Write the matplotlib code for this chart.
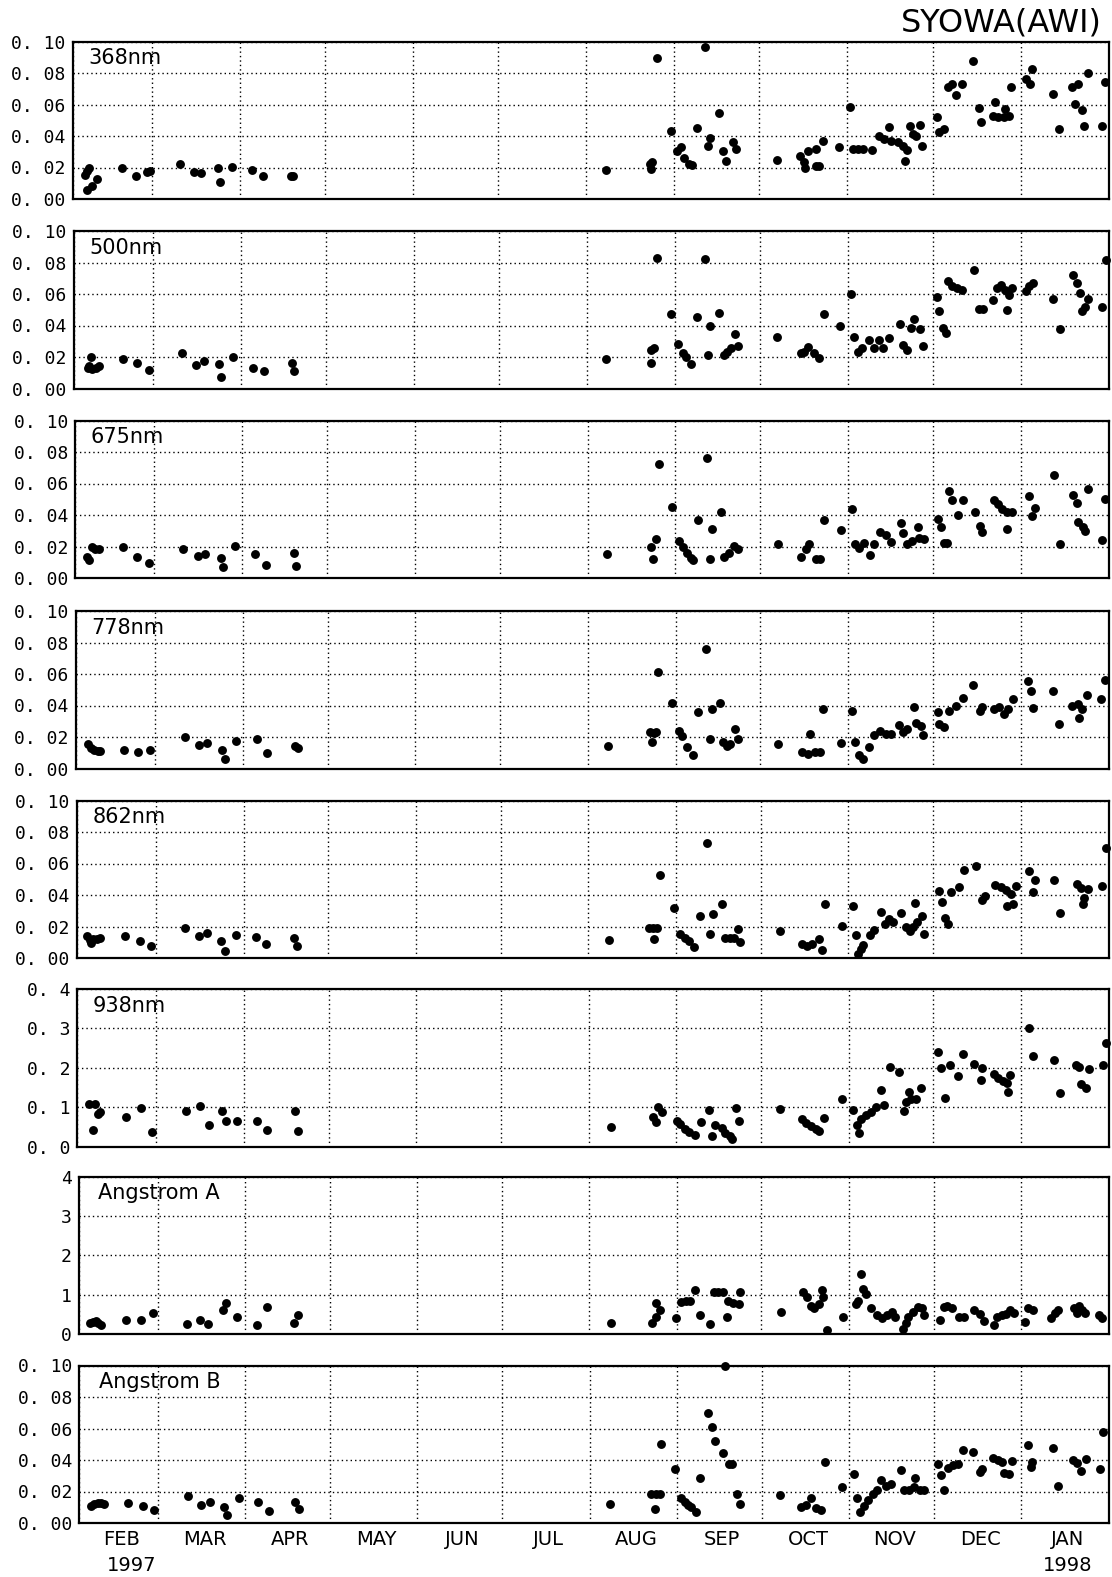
import matplotlib
matplotlib.use("Agg")
import matplotlib.pyplot as plt
from matplotlib.ticker import FixedLocator, FixedFormatter, NullFormatter
import matplotlib.transforms as mtransforms

# ---------------- data (x = days since 1 Feb 1997) ----------------
month_starts = [0, 28, 59, 89, 120, 150, 181, 212, 242, 273, 303, 334, 365]
month_labels = ["FEB", "MAR", "APR", "MAY", "JUN", "JUL",
                "AUG", "SEP", "OCT", "NOV", "DEC", "JAN"]

day_368 = [4.4, 5.2, 5.9, 5.2, 6.7, 8.5, 17.3, 22.4, 26.1, 27.3, 37.9, 42.9, 45.3, 51.2, 51.8, 56.0, 63.3, 67.1, 77.0, 77.8,
           187.9, 205.9, 203.5, 204.3, 203.8, 211.0, 222.7, 213.1, 214.5, 215.5, 217.0, 218.3, 220.0, 224.5, 223.9,
           227.8, 229.1, 230.3, 232.6, 233.7, 248.1, 256.2, 257.6, 258.2, 259.2, 261.8, 261.8, 263.0, 264.5, 270.2,
           273.8, 275.0, 276.8, 278.6, 281.7, 284.1, 285.8, 287.6, 288.2, 290.7, 292.5, 294.0, 293.3, 295.0, 296.1,
           298.5, 297.3, 299.3, 304.5, 305.1, 306.9, 308.5, 309.9, 311.4, 313.3, 317.1, 319.5, 320.2, 325.0, 324.4,
           326.2, 328.0, 329.8, 328.6, 330.6, 335.8, 337.4, 338.2, 345.6, 347.6, 352.0, 354.4, 357.7, 353.2, 355.6,
           356.2, 362.6, 363.8]
aod_368 = [0.0155, 0.018, 0.0198, 0.0057, 0.0085, 0.0128, 0.0198, 0.0149, 0.017, 0.0177, 0.0223, 0.017, 0.0164, 0.0196,
           0.0106, 0.0202, 0.0185, 0.0149, 0.0149, 0.0149,
           0.0182, 0.0893, 0.022, 0.0235, 0.0188, 0.0434, 0.0968, 0.0306, 0.0327, 0.0259, 0.0224, 0.0216, 0.045, 0.039,
           0.0338, 0.0545, 0.0306, 0.0241, 0.0365, 0.0316, 0.0248, 0.0273, 0.0235, 0.0199, 0.0306, 0.0316, 0.021, 0.021,
           0.037, 0.0333, 0.0583, 0.032, 0.032, 0.032, 0.031, 0.040, 0.038, 0.0455, 0.037, 0.0359, 0.0338, 0.031, 0.0241,
           0.0466, 0.0412, 0.0472, 0.040, 0.0338, 0.0523, 0.0423, 0.0444, 0.0712, 0.0733, 0.0658, 0.0729, 0.0876, 0.058,
           0.0487, 0.0615, 0.053, 0.052, 0.052, 0.053, 0.057, 0.0712, 0.0765, 0.0733, 0.0825, 0.0669, 0.0444, 0.0712,
           0.0733, 0.0803, 0.0605, 0.0562, 0.0466, 0.0466, 0.0744]

day_500 = [5.2, 5.5, 6.3, 6.7, 7.9, 9.0, 17.5, 22.4, 26.7, 38.1, 43.2, 46.1, 51.2, 52.0, 56.3, 63.4, 67.2, 77.0, 77.8,
           187.9, 205.9, 203.5, 204.7, 203.8, 210.7, 222.7, 213.1, 214.9, 216.1, 217.9, 220.0, 224.5, 223.9, 227.8,
           229.3, 230.5, 231.7, 233.2, 234.2, 248.1, 256.4, 257.6, 259.2, 261.2, 263.0, 264.5, 270.2, 274.2, 275.4,
           276.8, 278.0, 280.5, 282.3, 284.1, 285.3, 287.6, 291.3, 292.5, 294.0, 295.5, 296.4, 298.5, 299.5, 304.5,
           305.4, 306.6, 307.6, 308.5, 309.9, 311.7, 313.5, 317.4, 319.5, 320.7, 324.4, 325.6, 327.0, 328.5, 330.0,
           331.0, 329.1, 335.8, 337.0, 338.2, 345.6, 347.8, 352.4, 353.8, 354.8, 357.7, 355.6, 356.6, 362.6, 364.1]
aod_500 = [0.0133, 0.0143, 0.0202, 0.0122, 0.0133, 0.0143, 0.019, 0.0164, 0.0118, 0.0223, 0.0147, 0.0175, 0.0154, 0.0076,
           0.0202, 0.0133, 0.0112, 0.016, 0.0112,
           0.0185, 0.0826, 0.0245, 0.0255, 0.0164, 0.0472, 0.0823, 0.0283, 0.0228, 0.0202, 0.0155, 0.0451, 0.040, 0.0213,
           0.0479, 0.0213, 0.0234, 0.0255, 0.0345, 0.027, 0.0326, 0.0223, 0.0234, 0.0266, 0.0223, 0.0191, 0.0472, 0.0394,
           0.0602, 0.0326, 0.0234, 0.0255, 0.0309, 0.0255, 0.0309, 0.0255, 0.0319, 0.041, 0.0277, 0.0245, 0.0383, 0.0443,
           0.0377, 0.027, 0.0581, 0.0489, 0.0383, 0.0355, 0.068, 0.0653, 0.0638, 0.0623, 0.0751, 0.0506, 0.0504, 0.056,
           0.0638, 0.066, 0.0628, 0.0596, 0.0638, 0.0496, 0.0617, 0.0649, 0.067, 0.0568, 0.0377, 0.0723, 0.067, 0.0606,
           0.057, 0.0489, 0.0517, 0.0517, 0.0819]

day_675 = [4.4, 5.1, 5.9, 7.1, 8.3, 16.9, 21.9, 26.2, 38.1, 43.3, 46.0, 51.4, 52.2, 56.4, 63.4, 67.3, 77.4, 78.0,
           187.9, 206.1, 203.5, 205.1, 204.3, 211.0, 223.1, 213.3, 214.9, 216.3, 217.5, 218.3, 220.1, 225.1, 228.1,
           224.3, 229.3, 231.1, 232.9, 234.2, 248.3, 256.4, 258.2, 259.4, 261.6, 263.0, 264.6, 270.5, 274.4, 275.6,
           276.8, 278.6, 280.6, 282.3, 284.4, 286.4, 288.2, 291.6, 292.5, 293.8, 295.5, 297.6, 297.9, 299.7, 304.8,
           305.7, 307.0, 307.9, 308.7, 309.7, 313.5, 311.7, 317.7, 319.5, 320.4, 324.4, 325.9, 327.4, 329.2, 331.0,
           329.1, 337.0, 339.0, 338.0, 345.6, 347.8, 352.6, 353.8, 357.7, 354.4, 355.9, 356.8, 362.8, 363.8]
aod_675 = [0.0132, 0.0115, 0.0195, 0.0184, 0.0182, 0.0199, 0.0132, 0.0094, 0.0182, 0.014, 0.0153, 0.0126, 0.0073, 0.0203,
           0.0151, 0.0084, 0.0157, 0.0077,
           0.015, 0.0721, 0.0197, 0.025, 0.0118, 0.0453, 0.0759, 0.0235, 0.0197, 0.016, 0.0128, 0.0113, 0.037, 0.0314,
           0.0421, 0.0118, 0.0135, 0.016, 0.0203, 0.0186, 0.0214, 0.0133, 0.0182, 0.0214, 0.0118, 0.0122, 0.037, 0.0304,
           0.0439, 0.0214, 0.0193, 0.022, 0.0143, 0.0214, 0.0289, 0.0272, 0.0229, 0.0347, 0.0284, 0.0214, 0.0235, 0.0321,
           0.0257, 0.0246, 0.0374, 0.0321, 0.022, 0.0225, 0.055, 0.0498, 0.0498, 0.040, 0.0417, 0.0327, 0.0293, 0.0498,
           0.047, 0.0439, 0.0417, 0.0417, 0.0314, 0.0518, 0.0443, 0.0391, 0.0652, 0.0214, 0.053, 0.0477, 0.0567, 0.0357,
           0.0321, 0.030, 0.024, 0.0503]

day_778 = [4.4, 5.3, 6.5, 7.7, 8.6, 17.1, 22.1, 26.4, 38.5, 43.5, 46.5, 51.6, 52.6, 56.6, 63.9, 67.5, 77.6, 78.4,
           188.0, 205.8, 203.0, 204.2, 205.0, 203.8, 210.8, 222.8, 213.2, 214.4, 215.9, 218.0, 219.8, 225.0, 227.6,
           224.0, 228.8, 230.3, 231.2, 233.0, 233.9, 248.1, 256.5, 258.7, 259.5, 261.3, 263.1, 264.0, 270.3, 274.3,
           275.5, 276.9, 278.1, 280.3, 282.0, 284.1, 286.5, 288.3, 291.1, 292.3, 293.7, 296.2, 296.8, 298.6, 299.5,
           304.6, 305.2, 306.7, 308.8, 311.2, 313.6, 317.2, 319.6, 320.2, 324.4, 326.4, 328.0, 329.6, 331.3, 336.4,
           337.6, 338.2, 345.4, 347.6, 352.1, 354.1, 355.7, 354.6, 357.5, 362.3, 363.7]
aod_778 = [0.0154, 0.0133, 0.0116, 0.0112, 0.0112, 0.0116, 0.0105, 0.0116, 0.020, 0.0147, 0.0162, 0.012, 0.0063, 0.0175,
           0.0189, 0.0101, 0.0141, 0.013,
           0.0143, 0.0615, 0.0229, 0.0225, 0.0229, 0.0169, 0.0418, 0.076, 0.024, 0.0208, 0.0139, 0.0086, 0.0358, 0.0375,
           0.0418, 0.0186, 0.0169, 0.0143, 0.0154, 0.025, 0.019, 0.0158, 0.0105, 0.009, 0.0218, 0.0105, 0.0105, 0.0379,
           0.016, 0.0368, 0.0169, 0.0086, 0.0058, 0.0139, 0.0212, 0.0236, 0.0218, 0.0218, 0.0276, 0.0229, 0.025, 0.039,
           0.0289, 0.0272, 0.0212, 0.0358, 0.0283, 0.0261, 0.0368, 0.0396, 0.0448, 0.0533, 0.0362, 0.039, 0.0379, 0.039,
           0.0347, 0.0379, 0.0443, 0.0557, 0.049, 0.0383, 0.0492, 0.0283, 0.040, 0.0411, 0.0379, 0.0319, 0.0465, 0.0443,
           0.0561]

day_862 = [3.6, 4.6, 5.2, 5.8, 7.0, 8.2, 17.2, 22.4, 26.4, 38.3, 43.4, 46.1, 51.1, 52.6, 56.4, 63.4, 67.1, 76.8, 78.0,
           188.3, 206.3, 202.4, 203.9, 205.4, 204.2, 211.4, 223.0, 213.4, 215.0, 216.6, 218.4, 220.4, 225.2, 228.2,
           224.0, 229.2, 231.0, 232.6, 233.8, 234.6, 248.7, 256.5, 258.3, 260.1, 262.5, 263.7, 264.7, 270.6, 274.6,
           275.8, 276.4, 277.3, 278.2, 280.5, 282.2, 284.6, 285.8, 287.4, 288.6, 291.6, 293.4, 294.6, 295.8, 297.4,
           299.1, 296.7, 299.9, 304.9, 306.1, 307.1, 308.3, 309.2, 312.2, 314.0, 318.0, 320.4, 321.2, 324.8, 326.8,
           328.8, 330.5, 332.1, 329.0, 331.2, 337.0, 339.1, 338.2, 345.6, 348.0, 353.8, 355.3, 357.9, 356.2, 355.9,
           362.8, 364.0]
aod_862 = [0.0139, 0.0113, 0.0096, 0.0122, 0.0122, 0.0128, 0.0139, 0.0107, 0.0075, 0.0188, 0.0139, 0.0156, 0.0111, 0.0047,
           0.0146, 0.0135, 0.0092, 0.0124, 0.0079,
           0.0115, 0.0524, 0.0188, 0.0188, 0.0188, 0.0123, 0.032, 0.0732, 0.0152, 0.013, 0.0108, 0.0071, 0.0266, 0.0281,
           0.034, 0.0152, 0.013, 0.013, 0.013, 0.0184, 0.0102, 0.0169, 0.0087, 0.0076, 0.0091, 0.0119, 0.0048, 0.0346,
           0.0201, 0.0331, 0.0147, 0.0026, 0.0054, 0.0082, 0.0147, 0.0177, 0.0292, 0.0216, 0.0249, 0.0227, 0.0286, 0.0195,
           0.0173, 0.0195, 0.0227, 0.0264, 0.0351, 0.0152, 0.0426, 0.0357, 0.0255, 0.0216, 0.0416, 0.045, 0.0556, 0.0584,
           0.0368, 0.0394, 0.0465, 0.0448, 0.0433, 0.0407, 0.0455, 0.0329, 0.0342, 0.0552, 0.0498, 0.0418, 0.0494, 0.0286,
           0.0472, 0.0444, 0.0437, 0.0379, 0.0342, 0.0455, 0.0697]

day_938 = [4.3, 5.5, 6.1, 7.2, 8.2, 17.2, 22.4, 26.4, 38.5, 43.4, 46.6, 51.3, 52.6, 56.6, 63.6, 67.2, 77.0, 78.2,
           188.8, 203.6, 204.8, 205.4, 206.9, 212.1, 213.5, 215.0, 216.6, 218.6, 220.6, 223.6, 224.6, 225.8, 228.2,
           229.4, 231.0, 231.8, 233.3, 234.2, 248.6, 256.6, 257.8, 259.6, 261.4, 262.6, 264.4, 270.5, 274.5, 275.9,
           276.8, 277.5, 279.2, 281.1, 282.8, 284.3, 285.6, 287.6, 290.9, 292.7, 293.3, 294.5, 295.1, 296.9, 298.7,
           304.8, 305.6, 307.2, 309.0, 311.6, 313.5, 317.4, 320.4, 319.8, 324.4, 326.0, 327.6, 329.0, 330.2, 329.5,
           337.0, 338.4, 345.8, 348.0, 353.4, 354.6, 355.2, 357.0, 358.2, 363.0, 364.2]
aod_938 = [0.107, 0.0409, 0.1087, 0.0826, 0.087, 0.0739, 0.0974, 0.0365, 0.0913, 0.1017, 0.0548, 0.0913, 0.0652, 0.0652,
           0.0635, 0.0417, 0.0913, 0.0391,
           0.0504, 0.0739, 0.0626, 0.100, 0.087, 0.0652, 0.0565, 0.0452, 0.0365, 0.0304, 0.0626, 0.0939, 0.0278, 0.0539,
           0.0478, 0.0348, 0.026, 0.0191, 0.0983, 0.0635, 0.0957, 0.0696, 0.0609, 0.0522, 0.0452, 0.0391, 0.0713, 0.120,
           0.0939, 0.0539, 0.0348, 0.0696, 0.080, 0.0887, 0.100, 0.1435, 0.1061, 0.2017, 0.1896, 0.0913, 0.113, 0.1391,
           0.120, 0.1217, 0.1496, 0.2391, 0.200, 0.1235, 0.207, 0.1783, 0.2348, 0.2104, 0.1983, 0.1696, 0.1843, 0.1739,
           0.167, 0.1609, 0.1826, 0.1391, 0.300, 0.2304, 0.2191, 0.1348, 0.207, 0.2017, 0.1583, 0.1478, 0.1974, 0.207,
           0.2626]

day_angA = [3.9, 5.1, 6.1, 7.0, 8.1, 17.0, 22.0, 26.3, 38.4, 43.1, 46.0, 51.1, 52.3, 56.3, 63.1, 66.8, 76.5, 77.7,
            188.6, 203.4, 204.6, 206.2, 204.6, 211.6, 213.4, 215.2, 216.7, 218.6, 220.3, 223.7, 225.1, 226.7, 228.5,
            229.7, 230.3, 232.1, 233.9, 234.5, 249.0, 256.8, 258.0, 259.6, 260.8, 262.3, 263.3, 263.9, 265.4, 271.0,
            277.3, 277.9, 279.1, 275.4, 276.3, 281.0, 282.8, 284.6, 286.5, 288.2, 289.3, 292.0, 293.2, 293.8, 295.6,
            297.4, 299.0, 299.5, 305.2, 306.6, 307.8, 309.6, 312.0, 313.8, 317.4, 319.5, 320.9, 324.5, 325.5, 327.3,
            328.8, 330.2, 331.4, 335.3, 336.3, 338.1, 344.5, 346.0, 347.0, 352.6, 354.4, 355.6, 356.8, 353.8, 361.6,
            362.8]
angA = [0.27, 0.31, 0.34, 0.29, 0.23, 0.36, 0.36, 0.53, 0.26, 0.36, 0.26, 0.61, 0.80, 0.44, 0.23, 0.68, 0.29, 0.47,
        0.27, 0.27, 0.43, 0.60, 0.78, 0.41, 0.81, 0.85, 0.83, 1.13, 0.47, 0.26, 1.06, 1.06, 1.06, 0.44, 0.83, 0.78,
        0.75, 1.06, 0.55, 1.06, 0.94, 0.72, 0.66, 0.77, 1.12, 0.94, 0.10, 0.44, 1.53, 1.15, 1.02, 0.75, 0.83, 0.66,
        0.47, 0.41, 0.47, 0.55, 0.44, 0.13, 0.27, 0.44, 0.55, 0.68, 0.66, 0.47, 0.36, 0.68, 0.72, 0.66, 0.43, 0.43,
        0.60, 0.51, 0.34, 0.24, 0.44, 0.47, 0.51, 0.60, 0.53, 0.30, 0.66, 0.60, 0.41, 0.53, 0.60, 0.66, 0.70, 0.60,
        0.53, 0.53, 0.47, 0.41]

day_angB = [4.2, 5.4, 6.6, 7.7, 8.9, 17.4, 22.6, 26.6, 38.6, 43.4, 46.6, 51.3, 52.5, 56.6, 63.4, 67.4, 76.7, 77.9,
            188.4, 202.8, 204.6, 206.1, 204.2, 206.4, 211.4, 213.3, 214.7, 215.9, 217.1, 218.6, 220.1, 223.1, 224.3,
            225.5, 228.2, 230.3, 231.5, 229.1, 233.3, 234.5, 248.6, 256.0, 257.6, 259.6, 261.4, 262.9, 264.4, 270.4,
            274.8, 275.8, 276.8, 278.2, 279.7, 281.6, 283.0, 284.4, 286.0, 287.8, 291.4, 292.6, 294.4, 296.2, 296.5,
            298.0, 299.5, 304.5, 305.7, 306.7, 308.1, 309.9, 311.7, 313.5, 317.1, 319.5, 320.3, 323.9, 325.8, 327.3,
            327.9, 329.7, 330.9, 336.3, 337.4, 338.0, 345.2, 347.0, 352.4, 353.8, 355.4, 357.0, 362.0, 363.2]
angB = [0.011, 0.0121, 0.0125, 0.0125, 0.0121, 0.0127, 0.0106, 0.0085, 0.0174, 0.0117, 0.0136, 0.010, 0.0051, 0.0157,
        0.0136, 0.0074, 0.0136, 0.0089,
        0.0118, 0.0182, 0.0182, 0.0182, 0.0091, 0.0503, 0.0345, 0.0161, 0.0133, 0.0112, 0.0101, 0.007, 0.0288, 0.0698,
        0.0609, 0.052, 0.0446, 0.0372, 0.0372, 0.0994, 0.0186, 0.0118, 0.018, 0.0101, 0.0112, 0.0161, 0.0097, 0.0085,
        0.0387, 0.0228, 0.0313, 0.0161, 0.007, 0.0106, 0.0144, 0.0182, 0.0211, 0.0275, 0.0233, 0.0245, 0.0334, 0.0211,
        0.0211, 0.0228, 0.0288, 0.0211, 0.0211, 0.0372, 0.0302, 0.0207, 0.0351, 0.037, 0.0376, 0.0461, 0.045, 0.0323,
        0.0345, 0.0414, 0.0397, 0.0387, 0.0317, 0.0313, 0.0393, 0.0497, 0.0355, 0.0387, 0.0476, 0.0233, 0.0402, 0.038,
        0.033, 0.0408, 0.0345, 0.0577]

aod_ticks = [0.0, 0.02, 0.04, 0.06, 0.08, 0.10]
aod_ticklabels = ["0. 00", "0. 02", "0. 04", "0. 06", "0. 08", "0. 10"]
w938_ticks = [0.0, 0.1, 0.2, 0.3, 0.4]
w938_ticklabels = ["0. 0", "0. 1", "0. 2", "0. 3", "0. 4"]
angA_ticks = [0, 1, 2, 3, 4]
angA_ticklabels = ["0", "1", "2", "3", "4"]

panel_names = ["368nm", "500nm", "675nm", "778nm", "862nm", "938nm", "Angstrom A", "Angstrom B"]
panel_x = [day_368, day_500, day_675, day_778, day_862, day_938, day_angA, day_angB]
panel_y = [aod_368, aod_500, aod_675, aod_778, aod_862, aod_938, angA, angB]
panel_ticks = [aod_ticks] * 5 + [w938_ticks, angA_ticks, aod_ticks]
panel_ticklabels = [aod_ticklabels] * 5 + [w938_ticklabels, angA_ticklabels, aod_ticklabels]

# ---------------- layout ----------------
W, H = 1112, 1577
fig = plt.figure(figsize=(W / 100, H / 100), dpi=100)
fig.patch.set_facecolor("white")

tops = [41.5, 231.0, 420.5, 611.0, 800.5, 989.0, 1176.5, 1365.5]
lefts = [72.7, 73.5, 75.0, 75.8, 76.8, 77.3, 78.5, 79.0]
right_px = 1108.5
ph = 157.5

tick_font = dict(family="DejaVu Sans Mono", size=13)
grid_style = dict(color="black", linestyle=(0, (1, 2.2)), linewidth=1.0)

for i in range(8):
    l = lefts[i]
    ax = fig.add_axes([l / W, 1 - (tops[i] + ph) / H, (right_px - l) / W, ph / H])
    ticks = panel_ticks[i]
    ax.set_xlim(month_starts[0], month_starts[-1])
    ax.set_ylim(ticks[0], ticks[-1])

    ax.xaxis.set_major_locator(FixedLocator(month_starts))
    ax.xaxis.set_major_formatter(NullFormatter())
    ax.yaxis.set_major_locator(FixedLocator(ticks))
    ax.yaxis.set_major_formatter(FixedFormatter(panel_ticklabels[i]))
    ax.grid(True, which="major", **grid_style)
    ax.set_axisbelow(True)

    ax.tick_params(axis="both", which="both", length=0)
    ax.tick_params(axis="y", pad=5)
    for lab in ax.get_yticklabels():
        lab.set_fontfamily(tick_font["family"])
        lab.set_fontsize(tick_font["size"])

    for sp in ax.spines.values():
        sp.set_linewidth(1.6)
        sp.set_color("black")

    ax.plot(panel_x[i], panel_y[i], linestyle="none", marker="o", markersize=6.4,
            color="black", markeredgewidth=0, clip_on=False, zorder=3)

    ax.text(0.015 if i < 6 else 0.019, 0.895, panel_names[i], transform=ax.transAxes,
            ha="left", va="center", fontsize=15, family="DejaVu Sans", color="black")

    if i == 7:
        mids = [(month_starts[k] + month_starts[k + 1]) / 2 + 1 for k in range(12)]
        ax.xaxis.set_minor_locator(FixedLocator(mids))
        ax.xaxis.set_minor_formatter(FixedFormatter(month_labels))
        ax.tick_params(axis="x", which="minor", pad=5, labelsize=14)
        trans = mtransforms.blended_transform_factory(ax.transData, ax.transAxes)
        ax.text(18.5, -0.27, "1997", transform=trans, ha="center", va="center",
                fontsize=14, family="DejaVu Sans")
        ax.text(350.5, -0.27, "1998", transform=trans, ha="center", va="center",
                fontsize=14, family="DejaVu Sans")

fig.text(1102 / W, 1 - 23 / H, "SYOWA(AWI)", ha="right", va="center",
         fontsize=23, family="DejaVu Sans")

fig.savefig("out.png", dpi=100, facecolor="white")
